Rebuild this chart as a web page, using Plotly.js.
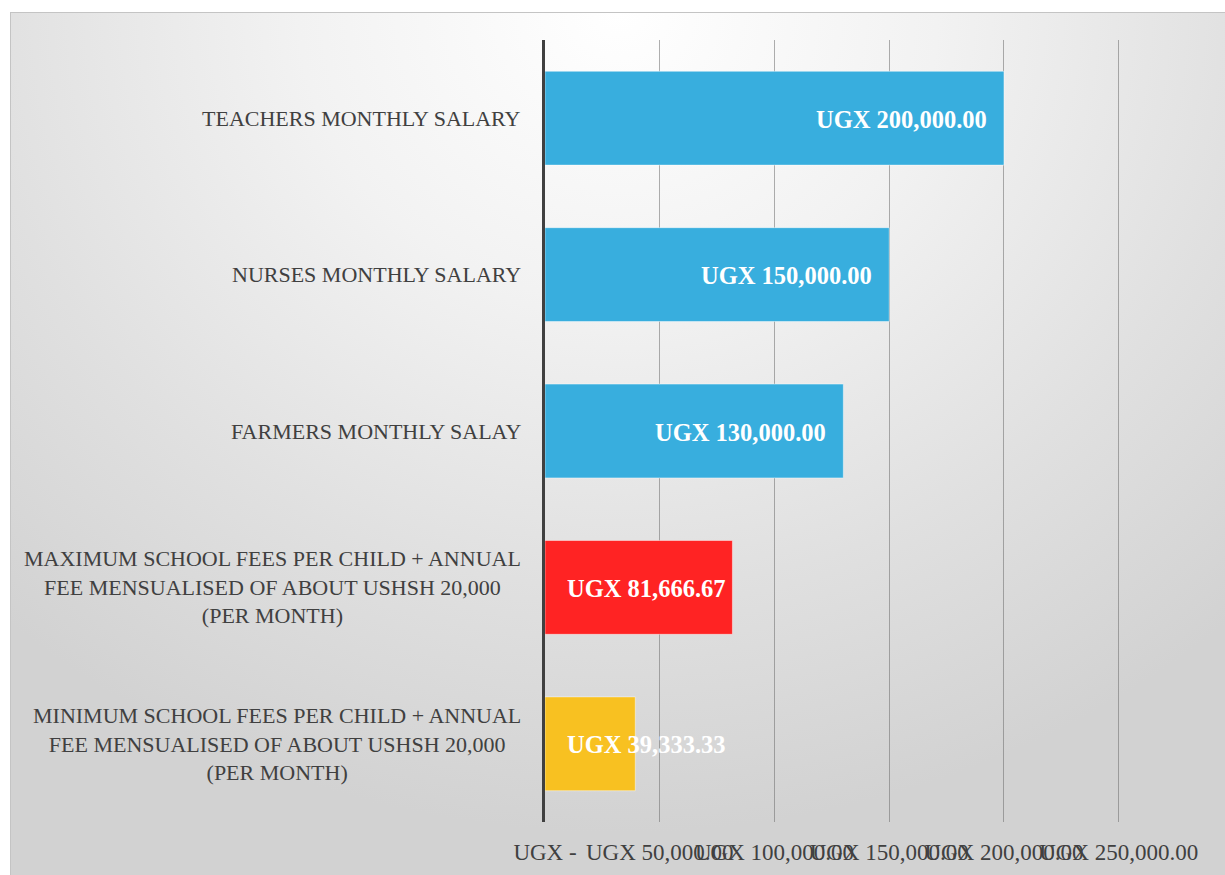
<!DOCTYPE html>
<html>
<head>
<meta charset="utf-8">
<script src="https://cdn.plot.ly/plotly-3.0.1.min.js"></script>
<style>
  html, body { margin: 0; padding: 0; background: #ffffff; width: 1225px; height: 875px; overflow: hidden; }
  #bg {
    position: absolute; left: 10px; top: 12px; width: 1215px; height: 863px;
    border-top: 1px solid #c4c4c4; border-left: 1px solid #c4c4c4;
    background: radial-gradient(ellipse 75% 95% at 50% 0%, #ffffff 0%, #f2f2f2 35%, #e0e0e0 70%, #d2d2d2 100%);
  }
  #chart { position: absolute; left: 0; top: 0; width: 1225px; height: 875px; }
</style>
</head>
<body>
<div id="bg"></div>
<div id="chart"></div>
<script>
const categories = [
  "TEACHERS MONTHLY SALARY",
  "NURSES MONTHLY SALARY",
  "FARMERS MONTHLY SALAY",
  "MAXIMUM SCHOOL FEES PER CHILD + ANNUAL<br>FEE MENSUALISED OF ABOUT USHSH 20,000<br>(PER MONTH)",
  "MINIMUM SCHOOL FEES PER CHILD + ANNUAL<br>FEE MENSUALISED OF ABOUT USHSH 20,000<br>(PER MONTH)"
];
const values = [200000, 150000, 130000, 81666.67, 39333.33];
const barColors = ["#38AEDE", "#38AEDE", "#38AEDE", "#FF2323", "#F8C121"];
const tickValues = [0, 50000, 100000, 150000, 200000, 250000];
const tickLabels = ["UGX -", "UGX 50,000.00", "UGX 100,000.00", "UGX 150,000.00", "UGX 200,000.00", "UGX 250,000.00"];

const fmt = v => "UGX " + v.toLocaleString("en-US", {minimumFractionDigits: 2, maximumFractionDigits: 2});

const trace = {
  type: "bar",
  orientation: "h",
  y: categories,
  x: values,
  width: 0.6,
  marker: { color: barColors, line: { color: "rgba(255,255,255,0.45)", width: 1 } },
  hoverinfo: "none"
};

const annotations = [];
categories.forEach((c, i) => {
  annotations.push({
    xref: "paper", yref: "y", x: 0, y: c, xanchor: "right", yanchor: "middle",
    xshift: -22, text: c, showarrow: false, align: "center",
    font: { family: "Liberation Serif, serif", size: 22, color: "#404040" }
  });
  // labels that do not fit inside their bar start near the axis
  const small = values[i] < 100000;
  annotations.push({
    xref: "x", yref: "y", x: small ? 0 : values[i], y: c,
    xanchor: small ? "left" : "right", yanchor: "middle",
    xshift: small ? 20 : -15, yshift: -1,
    text: "<b>" + fmt(values[i]) + "</b>", showarrow: false,
    font: { family: "Liberation Serif, serif", size: 24.5, color: "#ffffff" }
  });
});

const layout = {
  width: 1225, height: 875,
  margin: { l: 545, r: 104, t: 40, b: 53, pad: 0 },
  paper_bgcolor: "rgba(0,0,0,0)",
  plot_bgcolor: "rgba(0,0,0,0)",
  showlegend: false,
  xaxis: {
    range: [0, 251000],
    tickvals: tickValues, ticktext: tickLabels,
    tickangle: 0,
    showgrid: true, gridcolor: "rgba(110,110,110,0.55)", gridwidth: 1,
    zeroline: false, showline: false, ticks: "",
    ticklabelstandoff: 14,
    tickfont: { family: "Liberation Serif, serif", size: 23, color: "#404040" },
    fixedrange: true
  },
  yaxis: {
    autorange: "reversed",
    showticklabels: false, showgrid: false, zeroline: false,
    showline: true, linecolor: "#404040", linewidth: 3, ticks: "",
    fixedrange: true
  },
  annotations: annotations,
  font: { family: "Liberation Serif, serif" }
};

Plotly.newPlot("chart", [trace], layout, { displayModeBar: false, staticPlot: true });
</script>
</body>
</html>
